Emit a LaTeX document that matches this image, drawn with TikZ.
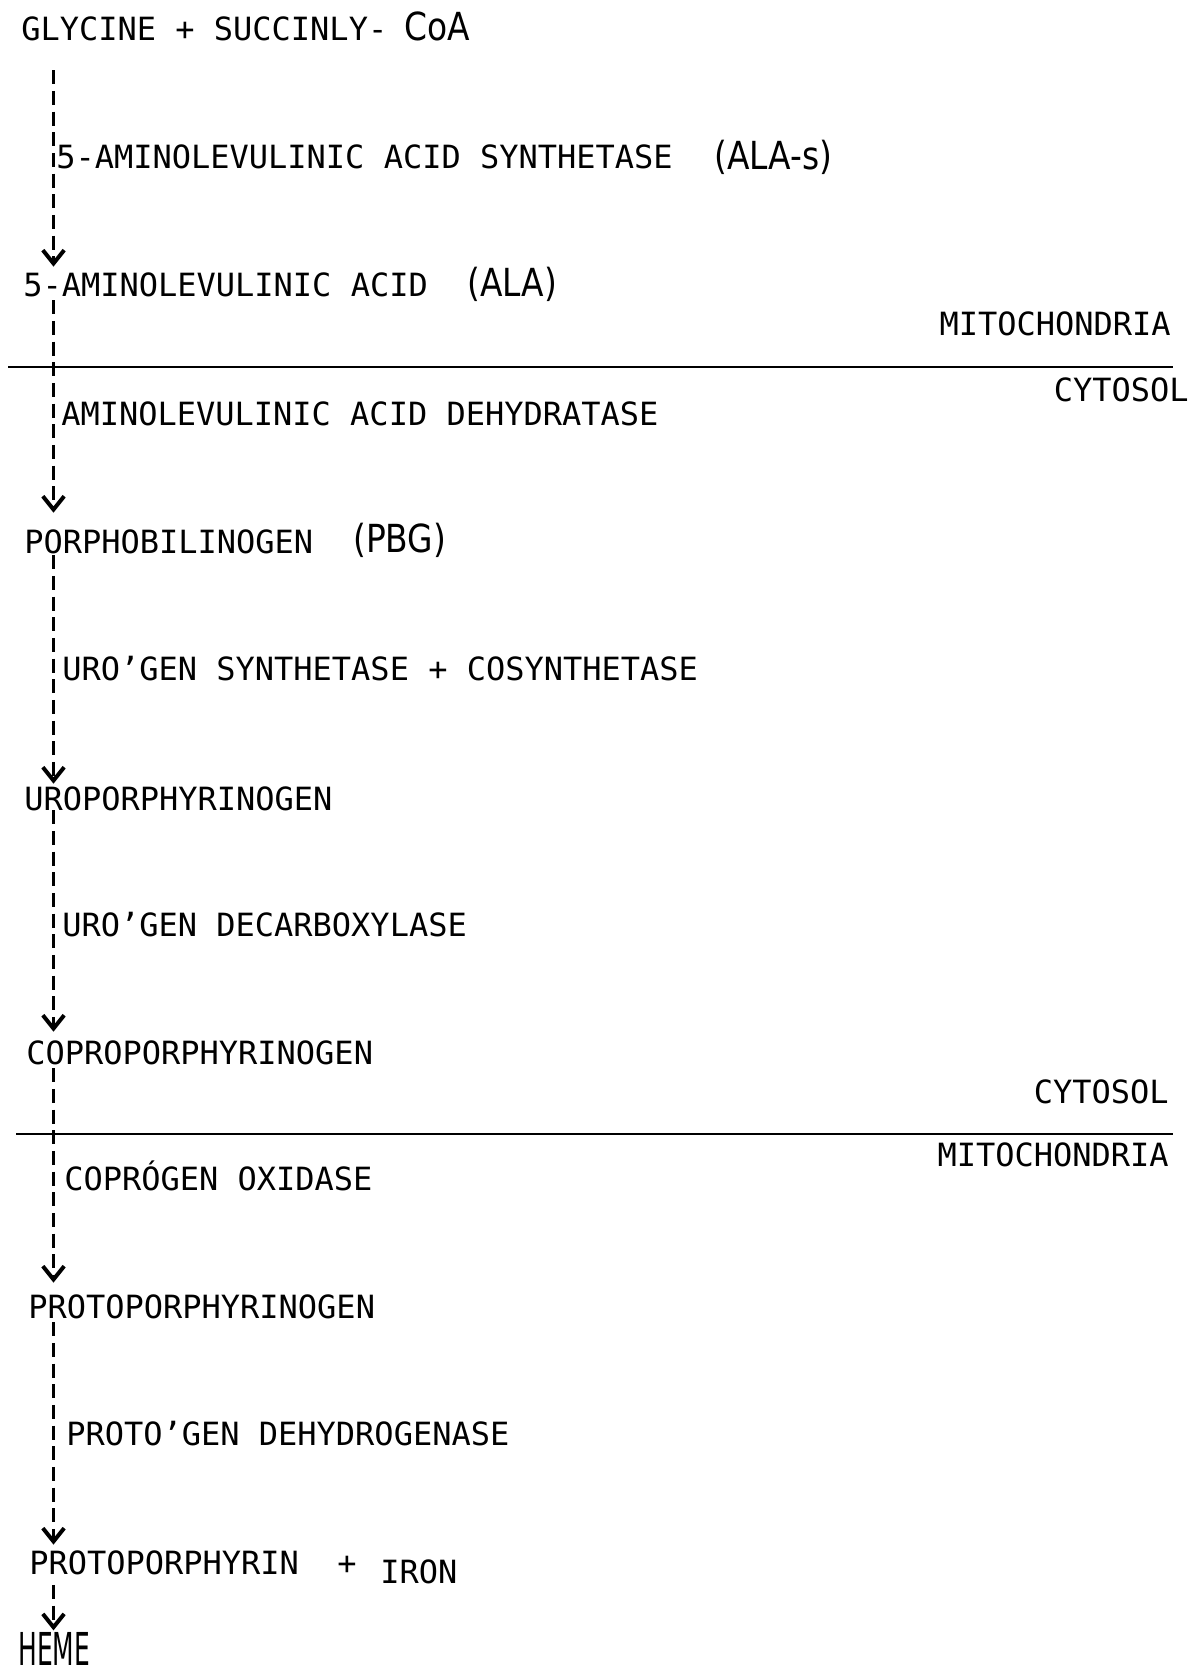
\documentclass[tikz,border=0pt]{standalone}
\usepackage{fontspec}
\newfontfamily\typewr{DejaVu Sans Mono}
\newfontfamily\handwr{DejaVu Sans}[FakeStretch=0.85]
\newfontfamily\hemewr{DejaVu Sans}[FakeStretch=0.55]
\usetikzlibrary{arrows.meta}

\begin{document}
\begin{tikzpicture}[x=0.75pt,y=0.75pt,yscale=-1,xscale=1,
  chem/.style={inner sep=0pt,text height=17.5pt,text depth=0pt,font=\typewr\fontsize{24}{28}\selectfont},
  hand/.style={inner sep=0pt,text height=21pt,text depth=0pt,font=\handwr\fontsize{29}{34}\selectfont},
  flow/.style={line width=1.9pt,dash pattern=on 10.5pt off 5pt,-{Straight Barb[length=10pt,width=16pt,line width=3pt]}},
  membrane/.style={line width=2pt}]
\useasboundingbox (0,0) rectangle (1201,1677);
\coordinate (ax) at (53.5,0);

% Text Node
\draw (21,41) node [chem,anchor=base west] (gly) {GLYCINE + SUCCINLY-};
% Text Node
\draw (404,41) node [hand,anchor=base west] (coa) {CoA};
% Text Node
\draw (56,168) node [chem,anchor=base west] (alas) {5-AMINOLEVULINIC ACID SYNTHETASE};
% Text Node
\draw (714,169) node [hand,anchor=base west] (alasab) {(ALA-s)};
% Text Node
\draw (23,296) node [chem,anchor=base west] (ala) {5-AMINOLEVULINIC ACID};
% Text Node
\draw (467,296) node [hand,anchor=base west] (alaab) {(ALA)};
% Text Node
\draw (61,425) node [chem,anchor=base west] (alad) {AMINOLEVULINIC ACID DEHYDRATASE};
% Text Node
\draw (24,553) node [chem,anchor=base west] (pbg) {PORPHOBILINOGEN};
% Text Node
\draw (353,552) node [hand,anchor=base west] (pbgab) {(PBG)};
% Text Node
\draw (62,680) node [chem,anchor=base west] (urosyn) {URO’GEN SYNTHETASE + COSYNTHETASE};
% Text Node
\draw (24,810) node [chem,anchor=base west] (uro) {UROPORPHYRINOGEN};
% Text Node
\draw (62,936) node [chem,anchor=base west] (urodec) {URO’GEN DECARBOXYLASE};
% Text Node
\draw (26,1064) node [chem,anchor=base west] (copro) {COPROPORPHYRINOGEN};
% Text Node
\draw (64,1190) node [chem,anchor=base west] (cpox) {COPRÓGEN OXIDASE};
% Text Node
\draw (28,1318) node [chem,anchor=base west] (protogen) {PROTOPORPHYRINOGEN};
% Text Node
\draw (66,1445) node [chem,anchor=base west] (ppox) {PROTO’GEN DEHYDROGENASE};
% Text Node
\draw (29,1574) node [chem,anchor=base west] (proto) {PROTOPORPHYRIN};
% Text Node
\draw (337,1574) node [chem,anchor=base west] (plus) {+};
% Text Node
\draw (380,1583) node [chem,anchor=base west] (iron) {IRON};
% Text Node
\draw (18,1665) node [inner sep=0pt,text height=24.75pt,text depth=0pt,font=\hemewr\fontsize{34}{40}\selectfont,anchor=base west] (heme) {HEME};

% Compartments
\draw (1171,335) node [chem,anchor=base east] (mitoA) {MITOCHONDRIA};
\draw (1189,401) node [chem,anchor=base east] (cytoA) {CYTOSOL};
\draw (1169,1103) node [chem,anchor=base east] (cytoB) {CYTOSOL};
\draw (1169,1166) node [chem,anchor=base east] (mitoB) {MITOCHONDRIA};

%Straight Lines
\draw [membrane] (8,367) -- (1173,367);
%Straight Lines
\draw [membrane] (16,1134) -- (1173,1134);

%Dashed Arrows
\draw [flow,shorten <=21.75pt,shorten >=4.3pt] (gly.south -| ax) -- (ala.north -| ax);
\draw [flow,shorten <=3pt,shorten >=12.5pt] (ala.south -| ax) -- (pbg.north -| ax);
\draw [flow,shorten <=1.5pt,shorten >=2pt] (pbg.south -| ax) -- (uro.north -| ax);
\draw [flow,shorten >=6.5pt] (uro.south -| ax) -- (copro.north -| ax);
\draw [flow,shorten <=3pt,shorten >=8.8pt] (copro.south -| ax) -- (protogen.north -| ax);
\draw [flow,shorten <=3pt,shorten >=4.3pt] (protogen.south -| ax) -- (proto.north -| ax);
\draw [flow,shorten <=8pt,shorten >=1pt] (proto.south -| ax) -- (heme.north -| ax);

\end{tikzpicture}
\end{document}
